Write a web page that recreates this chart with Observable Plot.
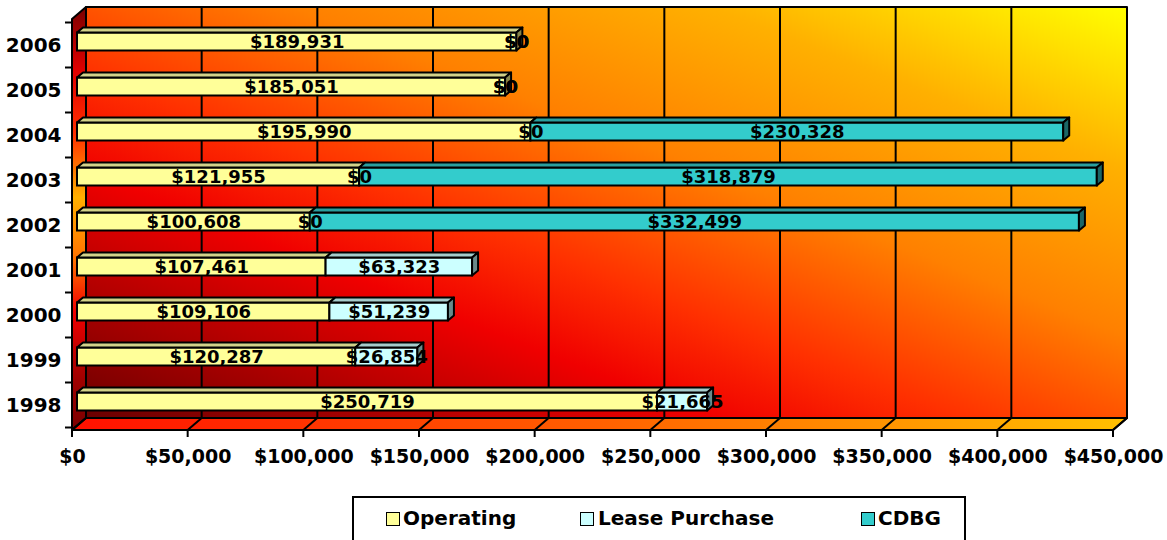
<!DOCTYPE html>
<html><head><meta charset="utf-8">
<script src="https://cdn.jsdelivr.net/npm/d3@7"></script>
<script src="https://cdn.jsdelivr.net/npm/@observablehq/plot@0.6"></script>
<style>
body{margin:0;background:#fff;font-family:"DejaVu Sans",sans-serif;}
#wrap{position:relative;width:1167px;height:540px;overflow:hidden;background:#fff;}
#chart svg{display:block;}
#legend{position:absolute;left:352px;top:496px;width:610px;height:70px;border:2px solid #000;background:#fff;font:bold 20px "DejaVu Sans",sans-serif;color:#000;}
#legend .sw{position:absolute;top:14px;width:12px;height:12px;border:1px solid #000;}
#legend .lb{position:absolute;top:8px;line-height:24px;white-space:nowrap;}
</style></head>
<body><div id="wrap"><div id="chart"></div><div id="legend"></div></div>
<script>
const years = ["1998","1999","2000","2001","2002","2003","2004","2005","2006"];
const operating = [250719,120287,109106,107461,100608,121955,195990,185051,189931];
const leasePurchase = [21665,26854,51239,63323,0,0,0,0,0];
const cdbg = [null,null,null,null,332499,318879,230328,0,0];
const seriesNames = ["Operating","Lease Purchase","CDBG"];
const xTicks = [0,50000,100000,150000,200000,250000,300000,350000,400000,450000];

const colors = ["#ffff99","#ccffff","#33cccc"];
const topColors = ["#d2d28a","#a6cccc","#2a9f9f"];
const sideColors = ["#85854e","#6a8a8a","#1b6666"];

const fmt = v => "$" + d3.format(",")(v);

// long table with stacked extents
const rows = [];
years.forEach((yr, i) => {
  let acc = 0;
  [operating[i], leasePurchase[i], cdbg[i]].forEach((v, s) => {
    const x1 = acc, x2 = acc + (v || 0);
    rows.push({year: yr, series: seriesNames[s], s, value: v, x1, x2});
    acc = x2;
  });
});
const ends = years.map(yr => {
  const r = rows.filter(d => d.year === yr && d.value > 0);
  const last = r[r.length - 1];
  return {year: yr, total: last.x2, s: last.s};
});

const BX = 5, BY = -3.5;      // bar depth offset
const FX = 6, FY = -5;        // bar face depth
const WX = 14, WY = -12;      // wall depth

function walls(index, scales, values, dim) {
  const x = scales.x, y = scales.y;
  const L = x(xTicks[0]), R = x(xTicks[xTicks.length - 1]);
  const T = dim.marginTop, B = dim.height - dim.marginBottom;
  const g = d3.create("svg:g");
  const defs = g.append("defs");
  const grad = (id, a, stops) => {
    const lg = defs.append("linearGradient").attr("id", id);
    Object.entries(a).forEach(([k, v]) => lg.attr(k, v));
    stops.forEach(([o, c]) => lg.append("stop").attr("offset", o).attr("stop-color", c));
  };
  grad("gWall", {x1: 0, y1: 1, x2: 1, y2: 0},
    [[0, "#6a0000"], [0.12, "#a00000"], [0.3, "#f00000"], [0.42, "#ff3000"], [0.6, "#ff8000"], [0.8, "#ffb000"], [1, "#ffff00"]]);
  grad("gLeft", {x1: 0, y1: 0, x2: 0, y2: 1},
    [[0, "#7a0000"], [0.15, "#e00000"], [0.3, "#ff3000"], [0.45, "#ffb000"], [0.6, "#ff7000"], [0.72, "#f00000"], [0.88, "#a00000"], [1, "#7a0000"]]);
  grad("gFloor", {x1: 0, y1: 0, x2: 1, y2: 0},
    [[0, "#ff1000"], [0.5, "#ff6000"], [1, "#ffc000"]]);
  const poly = (pts, fill) => g.append("polygon").attr("points", pts.map(p => p.join(",")).join(" "))
    .attr("fill", fill).attr("stroke", "#000").attr("stroke-width", 2).attr("stroke-linejoin", "round");
  // back wall
  poly([[L + WX, T + WY], [R + WX, T + WY], [R + WX, B + WY], [L + WX, B + WY]], "url(#gWall)");
  // left wall
  poly([[L, T], [L + WX, T + WY], [L + WX, B + WY], [L, B]], "url(#gLeft)");
  // floor
  poly([[L, B], [L + WX, B + WY], [R + WX, B + WY], [R, B]], "url(#gFloor)");
  // grid lines + floor diagonals + x ticks
  xTicks.forEach(t => {
    const px = x(t);
    g.append("line").attr("x1", px + WX).attr("x2", px + WX).attr("y1", T + WY).attr("y2", B + WY)
      .attr("stroke", "#000").attr("stroke-width", 2);
    g.append("line").attr("x1", px).attr("x2", px + WX).attr("y1", B).attr("y2", B + WY)
      .attr("stroke", "#000").attr("stroke-width", 2);
    g.append("line").attr("x1", px).attr("x2", px).attr("y1", B).attr("y2", B + 7)
      .attr("stroke", "#000").attr("stroke-width", 2);
  });
  // y ticks at band boundaries
  const step = y.step ? y.step() : (B - T) / years.length;
  const bw = y.bandwidth ? y.bandwidth() : step * 0.4;
  const bounds = new Set();
  years.forEach(yr => { const c = y(yr) + bw / 2; bounds.add(c - step / 2); bounds.add(c + step / 2); });
  bounds.forEach(b => g.append("line").attr("x1", L - 7).attr("x2", L).attr("y1", b).attr("y2", b)
    .attr("stroke", "#000").attr("stroke-width", 2));
  // front axis lines
  g.append("line").attr("x1", L).attr("x2", L).attr("y1", T).attr("y2", B + 7).attr("stroke", "#000").attr("stroke-width", 2);
  g.append("line").attr("x1", L).attr("x2", R).attr("y1", B).attr("y2", B).attr("stroke", "#000").attr("stroke-width", 2);
  return g.node();
}

function faces(index, scales) {
  const x = scales.x, y = scales.y;
  const bw = y.bandwidth();
  const g = d3.create("svg:g").attr("stroke", "#000").attr("stroke-width", 2).attr("stroke-linejoin", "round");
  rows.filter(r => r.value > 0).forEach(r => {
    const xa = x(r.x1) + BX, xb = x(r.x2) + BX, yt = y(r.year) + BY;
    g.append("polygon").attr("fill", topColors[r.s])
      .attr("points", [[xa, yt], [xa + FX, yt + FY], [xb + FX, yt + FY], [xb, yt]].map(p => p.join(",")).join(" "));
  });
  ends.forEach(e => {
    const xe = x(e.total) + BX, yt = y(e.year) + BY;
    g.append("polygon").attr("fill", sideColors[e.s])
      .attr("points", [[xe, yt], [xe + FX, yt + FY], [xe + FX, yt + FY + bw], [xe, yt + bw]].map(p => p.join(",")).join(" "));
  });
  return g.node();
}

const chart = Plot.plot({
  width: 1167,
  height: 480,
  marginLeft: 72,
  marginRight: 54,
  marginTop: 19,
  marginBottom: 50,
  style: {fontFamily: "DejaVu Sans", background: "transparent"},
  x: {domain: [0, 450000], axis: null},
  y: {domain: years.slice().reverse(), axis: null, paddingInner: 0.6, paddingOuter: 0.3},
  color: {domain: seriesNames, range: colors},
  marks: [
    walls,
    Plot.barX(rows.filter(r => r.value > 0), {
      x1: "x1", x2: "x2", y: "year", fill: "series",
      stroke: "#000", strokeWidth: 2, dx: BX, dy: BY
    }),
    faces,
    Plot.text(rows.filter(r => r.value !== null), {
      x: r => (r.x1 + r.x2) / 2, y: "year", text: r => fmt(r.value),
      dx: BX, dy: BY, fontSize: 18, fontWeight: "bold", fill: "#000"
    }),
    Plot.text(years, {
      y: d => d, text: d => d, frameAnchor: "left", dx: -11, textAnchor: "end", lineAnchor: "middle",
      fontSize: 20, fontWeight: "bold", fill: "#000"
    }),
    Plot.text(xTicks, {
      x: d => d, text: d => fmt(d), frameAnchor: "bottom", lineAnchor: "middle", dy: 26,
      fontSize: 19, fontWeight: "bold", fill: "#000"
    })
  ]
});
document.getElementById("chart").appendChild(chart);

// legend
const legendPos = [[32, 49], [226, 244], [507, 524]];
const legend = document.getElementById("legend");
seriesNames.forEach((name, i) => {
  const sw = document.createElement("div");
  sw.className = "sw"; sw.style.left = legendPos[i][0] + "px"; sw.style.background = colors[i];
  const lb = document.createElement("div");
  lb.className = "lb"; lb.style.left = legendPos[i][1] + "px"; lb.textContent = name;
  legend.appendChild(sw); legend.appendChild(lb);
});
</script>
</body></html>
